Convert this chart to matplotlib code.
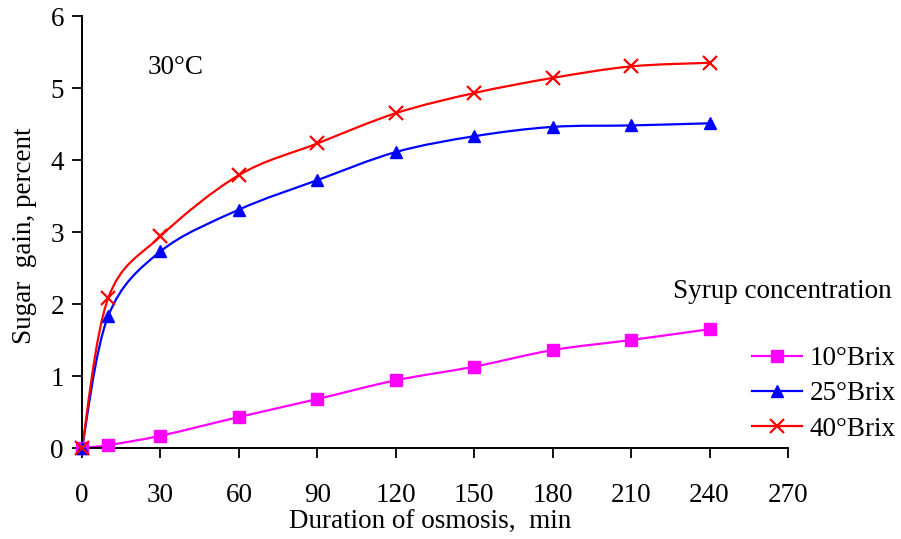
import numpy as np
import matplotlib
matplotlib.use("Agg")
import matplotlib.pyplot as plt
from matplotlib.path import Path
from matplotlib.patches import PathPatch
from matplotlib.lines import Line2D

plt.rcParams['font.family'] = ['Liberation Serif', 'DejaVu Serif']

# osmosis time, min
time_min = [0, 10, 30, 60, 90, 120, 150, 180, 210, 240]

# sugar gain, percent
brix10 = [0.0, 0.04, 0.17, 0.43, 0.68, 0.94, 1.13, 1.36, 1.50, 1.65]
brix25 = [0.0, 1.83, 2.73, 3.31, 3.72, 4.11, 4.33, 4.46, 4.48, 4.51]
brix40 = [0.0, 2.08, 2.94, 3.79, 4.23, 4.65, 4.93, 5.14, 5.30, 5.35]

series_labels = ['10°Brix', '25°Brix', '40°Brix']
x_ticks = [0, 30, 60, 90, 120, 150, 180, 210, 240, 270]
y_ticks = [0, 1, 2, 3, 4, 5, 6]

FS = 19.5


def smooth_path(xs, ys, t=1.0 / 6.0):
    # cubic bezier through every point, catmull-rom style tangents
    p = np.column_stack([xs, ys]).astype(float)
    n = len(p)
    verts = [p[0]]
    codes = [Path.MOVETO]
    for i in range(n - 1):
        p0 = p[i - 1] if i > 0 else p[i]
        p1 = p[i]
        p2 = p[i + 1]
        p3 = p[i + 2] if i + 2 < n else p[i + 1]
        c1 = p1 + (p2 - p0) * t
        c2 = p2 - (p3 - p1) * t
        verts += [c1, c2, p2]
        codes += [Path.CURVE4] * 3
    return Path(verts, codes)


fig = plt.figure(figsize=(9.01, 5.39), dpi=100)
ax = fig.add_axes([82 / 901, 1 - 448 / 539, 706 / 901, 432 / 539])

styles = [
    (brix10, '#FF00FF', 's', 8, 1.0),
    (brix25, '#0000FF', '^', 9, 1.0),
    (brix40, '#FF0000', 'x', 10, 1.6),
]
handles = []
for (vals, col, mk, ms, mew), lab in zip(styles, series_labels):
    patch = PathPatch(smooth_path(time_min, vals), facecolor='none',
                      edgecolor=col, lw=1.6, clip_on=False)
    ax.add_patch(patch)
    ax.plot(time_min, vals, linestyle='none', marker=mk, color=col,
            markersize=ms, markeredgewidth=mew, clip_on=False, zorder=3)
    handles.append(Line2D([], [], color=col, lw=1.6, marker=mk,
                          markersize=ms, markeredgewidth=mew))

ax.set_xlim(0, 270)
ax.set_ylim(0, 6)
ax.set_xticks(x_ticks)
ax.set_yticks(y_ticks)
for s in ['top', 'right']:
    ax.spines[s].set_visible(False)
for s in ['left', 'bottom']:
    ax.spines[s].set_linewidth(1.4)
ax.tick_params(axis='both', direction='out', length=7, width=1.3,
               labelsize=FS)
ax.tick_params(axis='x', pad=18)
ax.tick_params(axis='y', pad=6)

ax.text(25, 5.28, '30°C', fontsize=FS, va='center', ha='left')

fig.text(25 / 901, 1 - 236 / 539, 'Sugar  gain, percent', rotation=90,
         ha='center', va='center', fontsize=FS)
fig.text(430 / 901, 1 - 522 / 539, 'Duration of osmosis,  min',
         ha='center', va='center', fontsize=FS)
fig.text(892 / 901, 1 - 292 / 539, 'Syrup concentration',
         ha='right', va='center', fontsize=FS)

fig.legend(handles, series_labels, loc='upper right',
           bbox_to_anchor=(896 / 901, 1 - 346 / 539), frameon=False,
           fontsize=FS, handlelength=1.85, handletextpad=0.3,
           labelspacing=0.38, borderpad=0, borderaxespad=0)

fig.savefig('out.png', dpi=100)
